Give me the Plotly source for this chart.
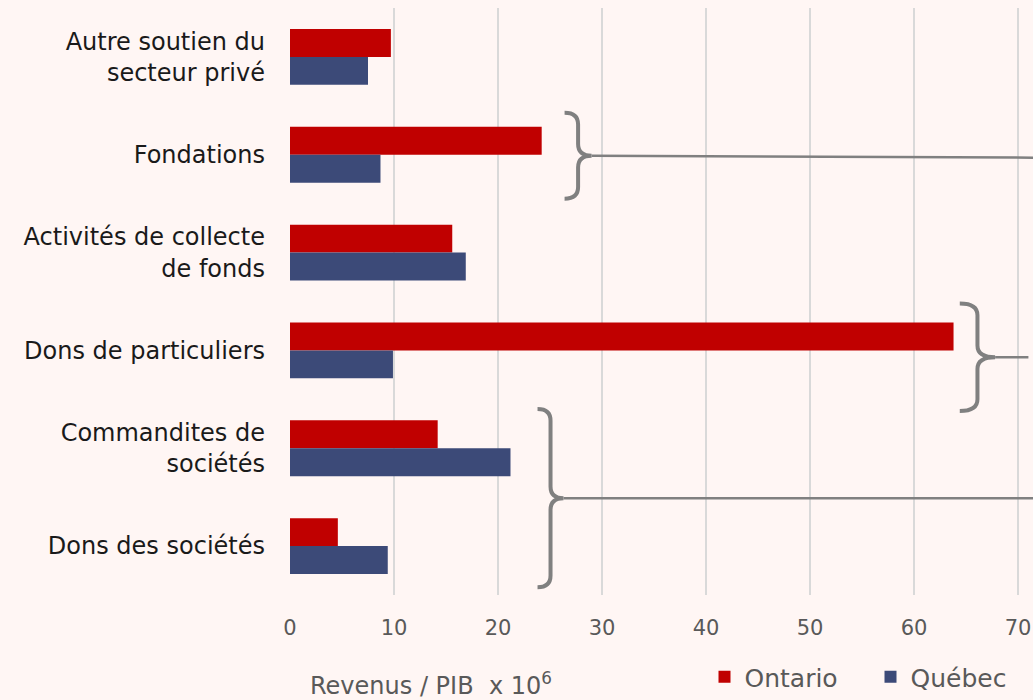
import plotly.graph_objects as go

categories = [
    "Autre soutien du<br>secteur privé",
    "Fondations",
    "Activités de collecte<br>de fonds",
    "Dons de particuliers",
    "Commandites de<br>sociétés",
    "Dons des sociétés",
]
ontario = [9.7, 24.2, 15.6, 63.8, 14.2, 4.6]
quebec = [7.5, 8.7, 16.9, 9.9, 21.2, 9.4]
x_ticks = [0, 10, 20, 30, 40, 50, 60, 70]

BG = "#FFF6F4"
RED = "#C00000"
NAVY = "#3C4A78"
GREY = "#808080"
FONT = "DejaVu Sans"

pos = list(range(len(categories)))

fig = go.Figure()
fig.add_trace(go.Bar(y=pos, x=ontario, name="Ontario", orientation="h",
                     marker=dict(color=RED, line=dict(width=0))))
fig.add_trace(go.Bar(y=pos, x=quebec, name="Québec", orientation="h",
                     marker=dict(color=NAVY, line=dict(width=0))))


def brace(x0, xtip, yc, h):
    # right facing curly brace, in data units
    xm = (x0 + xtip) / 2
    r = 0.12
    return (f"M {x0},{yc - h} Q {xm},{yc - h} {xm},{yc - h + r} "
            f"L {xm},{yc - r} Q {xm},{yc} {xtip},{yc} "
            f"Q {xm},{yc} {xm},{yc + r} "
            f"L {xm},{yc + h - r} Q {xm},{yc + h} {x0},{yc + h}")


# brackets pointing off to the right
braces = [
    (26.4, 29.0, 1.01, 0.44, 71.44, 1.03),
    (64.4, 67.8, 3.07, 0.55, 71.0, 3.07),
    (23.8, 26.3, 4.51, 0.91, 71.44, 4.51),
]
for x0, xt, yc, h, xend, yend in braces:
    fig.add_shape(type="path", path=brace(x0, xt, yc, h), xref="x", yref="y",
                  line=dict(color=GREY, width=4), layer="above")
    fig.add_shape(type="line", x0=xt, y0=yc, x1=xend, y1=yend, xref="x", yref="y",
                  line=dict(color=GREY, width=2.5), layer="above")

fig.add_annotation(text="Revenus / PIB  x 10<sup>6</sup>", xref="paper", yref="paper",
                   x=0.19, y=-0.152, xanchor="center", yanchor="middle", showarrow=False,
                   font=dict(family=FONT, size=24, color="#595959"))

fig.update_layout(
    width=1033, height=700,
    margin=dict(l=290, r=0, t=8, b=105, autoexpand=False),
    paper_bgcolor=BG, plot_bgcolor=BG,
    barmode="group", bargap=0.43, bargroupgap=0,
    font=dict(family=FONT),
    showlegend=True,
    legend=dict(orientation="h", xref="container", yref="container",
                x=0.682, y=0.0, xanchor="left", yanchor="bottom",
                font=dict(family=FONT, size=25, color="#595959"),
                bgcolor="rgba(0,0,0,0)", itemwidth=30,
                entrywidth=121, entrywidthmode="pixels"),
    xaxis=dict(range=[0, 71.44], tickvals=x_ticks, showgrid=True, gridcolor="#D9D9D9",
               gridwidth=2, zeroline=False, showline=False, ticks="",
               ticklabelstandoff=18,
               tickfont=dict(family=FONT, size=21, color="#595959")),
    yaxis=dict(range=[5.5, -0.5], tickvals=pos, ticktext=categories, showgrid=False,
               zeroline=False, showline=False, ticks="", ticklabelstandoff=24,
               tickfont=dict(family=FONT, size=24, color="#1A1A1A")),
)

fig.write_html("out.html", config={"displayModeBar": False},
               post_script="document.body.style.margin='0';")
